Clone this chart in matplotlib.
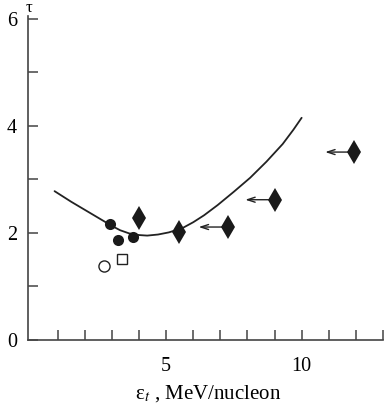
import numpy as np
import matplotlib
matplotlib.use('Agg')
import matplotlib.pyplot as plt

plt.rcParams['font.family'] = ['Liberation Serif', 'DejaVu Serif']
plt.rcParams['mathtext.fontset'] = 'stix'

# theory curve
curve_e = [0.88, 1.5, 2.0, 2.5, 3.0, 3.3, 3.64, 4.0, 4.3, 4.7, 5.1, 5.6, 6.0, 6.4,
           6.9, 7.5, 8.1, 8.7, 9.3, 9.7, 10.0]
curve_t = [2.78, 2.58, 2.43, 2.28, 2.13, 2.05, 1.99, 1.96, 1.95, 1.97, 2.01, 2.09, 2.2, 2.33,
           2.52, 2.77, 3.03, 3.33, 3.66, 3.93, 4.15]

# filled circles
circ_e = [2.94, 3.24, 3.79]
circ_t = [2.17, 1.87, 1.93]
# open circle, open square
ocirc_e = [2.72]
ocirc_t = [1.38]
sq_e = [3.38]
sq_t = [1.51]

# diamonds, the last three are upper limits
dia_e = [4.0, 5.48, 7.28, 9.0, 11.95]
dia_t = [2.28, 2.02, 2.11, 2.62, 3.51]
dia_limit = [False, False, True, True, True]

fig = plt.figure(figsize=(3.87, 4.09), dpi=100)
ax = fig.add_axes([0.0724, 0.1687, 0.917, 0.792])

ax.plot(curve_e, curve_t, color='#222222', lw=1.3, zorder=2,
        solid_joinstyle='round', solid_capstyle='round')

for e, t, lim in zip(dia_e, dia_t, dia_limit):
    if lim:
        ax.annotate('', xy=(e - 1.08, t), xytext=(e, t),
                    arrowprops=dict(arrowstyle='->,head_length=0.55,head_width=0.18',
                                    color='#222222', lw=1.0, shrinkA=0, shrinkB=0),
                    zorder=3)
ax.plot(dia_e, dia_t, 'd', color='#1a1a1a', ms=12.7, mew=0, zorder=4)
ax.plot(circ_e, circ_t, 'o', color='#1a1a1a', ms=8, mew=0, zorder=4)
ax.plot(ocirc_e, ocirc_t, 'o', mfc='white', mec='#222222', ms=8, mew=1.0, zorder=4)
ax.plot(sq_e, sq_t, 's', mfc='white', mec='#222222', ms=7, mew=1.0, zorder=4)

ax.set_xlim(-0.1, 12.95)
ax.set_ylim(0, 6.05)

for s in ['top', 'right']:
    ax.spines[s].set_visible(False)
for s in ['left', 'bottom']:
    ax.spines[s].set_color('#444444')
    ax.spines[s].set_linewidth(1.2)

ax.set_xticks(range(1, 14))
ax.set_xticklabels(['' if i not in (5, 10) else str(i) for i in range(1, 14)])
ax.set_yticks(range(0, 7))
ax.set_yticklabels([str(i) if i % 2 == 0 else '' for i in range(0, 7)])
ax.tick_params(axis='both', direction='in', length=7, width=1.1, color='#444444',
               labelsize=14.5)
ax.tick_params(axis='x', pad=12)
ax.tick_params(axis='y', pad=8)

fig.text(208 / 387, 1 - 394 / 409, 'ε$_t$ , MeV/nucleon', ha='center', va='center', fontsize=15)
fig.text(29 / 387, 1 - 8 / 409, 'τ', ha='center', va='center', fontsize=12)

fig.savefig('out.png', dpi=100)
